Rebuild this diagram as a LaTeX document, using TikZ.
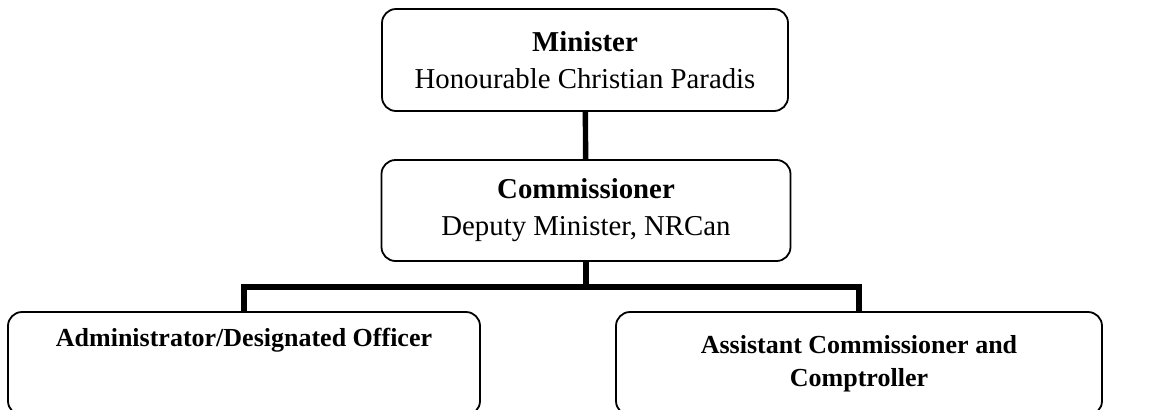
\documentclass[tikz,border=0pt]{standalone}
\usepackage{fontspec}
\setmainfont{Liberation Serif}

\begin{document}
\begin{tikzpicture}[
  x=0.5pt, y=-0.5pt,
  post/.style 2 args={draw=black, rounded corners=7pt, line width=.9pt,
                      align=center, inner sep=0pt,
                      minimum width=#1, minimum height=#2},
  big/.style={font=\fontsize{14.4}{18.5}\selectfont},
  small/.style={font=\fontsize{13}{16.5}\selectfont},
  link/.style={line width=2.7pt, line join=miter},
]
\clip (0,0) rectangle (1156,409);

% ---------------- top of the chart ----------------
\node[post={203pt}{51pt}, big] (min) at (585,60)
  {\textbf{Minister}\\Honourable Christian Paradis};
\node[post={204.5pt}{50.5pt}, big] (comm) at (586,210.5)
  {\textbf{Commissioner}\\Deputy Minister, NRCan};
\draw[link] (min) -- (comm);

% ---------------- reporting to the commissioner ----------------
\node[post={236pt}{51.5pt}, small] (admin) at (244,363.5)
  {\textbf{Administrator/Designated Officer}\\[5pt]\strut};
\node[post={243pt}{51.5pt}, small] (asst) at (859,363.5)
  {\textbf{Assistant Commissioner and}\\\textbf{Comptroller}};

\coordinate (fork) at (586,287);
\draw[link] (comm) -- (fork);
\draw[link] (admin) |- (fork) -| (asst);

\end{tikzpicture}
\end{document}
